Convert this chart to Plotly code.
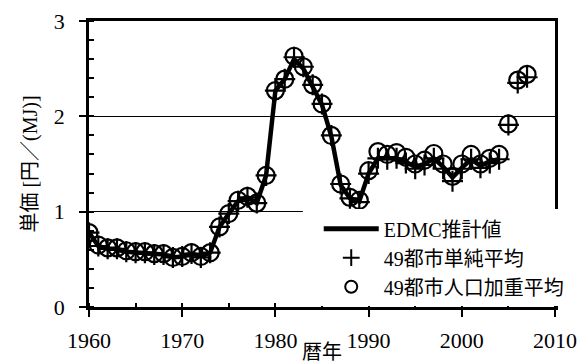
import plotly.graph_objects as go

years = list(range(1960, 2008))
weighted = [0.78, 0.65, 0.62, 0.62, 0.59, 0.58, 0.58, 0.56, 0.56, 0.52,
            0.53, 0.57, 0.53, 0.57, 0.84, 0.98, 1.12, 1.16, 1.09, 1.38,
            2.27, 2.39, 2.63, 2.52, 2.33, 2.13, 1.80, 1.29, 1.15, 1.12,
            1.43, 1.63, 1.60, 1.62, 1.57, 1.50, 1.54, 1.61, 1.50, 1.37,
            1.50, 1.60, 1.50, 1.56, 1.60, 1.92, 2.38, 2.44]
simple = [0.78, 0.64, 0.61, 0.61, 0.58, 0.57, 0.57, 0.55, 0.55, 0.52,
          0.53, 0.56, 0.52, 0.57, 0.84, 0.98, 1.11, 1.15, 1.09, 1.38,
          2.27, 2.39, 2.62, 2.52, 2.33, 2.13, 1.80, 1.29, 1.14, 1.10,
          1.40, 1.56, 1.55, 1.56, 1.51, 1.45, 1.49, 1.56, 1.45, 1.32,
          1.45, 1.55, 1.46, 1.51, 1.55, 1.91, 2.35, 2.41]
edmc_years = list(range(1960, 2005))
edmc = [0.78, 0.64, 0.61, 0.61, 0.58, 0.57, 0.57, 0.55, 0.55, 0.52,
        0.53, 0.56, 0.53, 0.57, 0.84, 0.98, 1.11, 1.15, 1.09, 1.38,
        2.27, 2.39, 2.60, 2.50, 2.32, 2.12, 1.79, 1.28, 1.14, 1.11,
        1.40, 1.56, 1.56, 1.56, 1.52, 1.47, 1.50, 1.56, 1.47, 1.36,
        1.46, 1.55, 1.48, 1.53, 1.55]

FONT = '"Liberation Serif", "Times New Roman", "Noto Sans CJK JP", serif'

fig = go.Figure()
fig.add_trace(go.Scatter(
    x=edmc_years, y=edmc, mode="lines", name="EDMC推計値",
    line=dict(color="black", width=4.5)))
fig.add_trace(go.Scatter(
    x=years, y=simple, mode="markers", name="49都市単純平均",
    marker=dict(symbol="cross-thin", size=15, line=dict(color="black", width=2.2), color="black")))
fig.add_trace(go.Scatter(
    x=years, y=weighted, mode="markers", name="49都市人口加重平均",
    marker=dict(symbol="circle-open", size=17, line=dict(color="black", width=2.2), color="black")))

# white strip continuing the legend box to the left (hides the 1.0 gridline there)
fig.add_shape(type="rect", xref="paper", yref="paper", x0=0.459, x1=0.5, y0=0.01, y1=0.345,
              fillcolor="white", line=dict(width=0), layer="above")

fig.update_layout(
    width=578, height=363,
    margin=dict(l=89, r=23, t=21, b=56, autoexpand=False),
    paper_bgcolor="white", plot_bgcolor="white",
    font=dict(family=FONT, size=20, color="black"),
    legend=dict(
        x=0.493, y=0.342, xanchor="left", yanchor="top",
        bgcolor="white", borderwidth=0, itemwidth=55, itemsizing="constant",
        font=dict(family=FONT, size=20, color="black"),
        tracegroupgap=0,
    ),
    xaxis=dict(
        range=[1960, 2010], tickmode="linear", tick0=1960, dtick=10,
        ticks="outside", ticklen=7, tickwidth=1.5, tickcolor="black",
        minor=dict(ticks="inside", ticklen=4, dtick=5, tickcolor="black", tickwidth=1.5),
        showline=True, linecolor="black", linewidth=2.5, mirror=True,
        showgrid=False, zeroline=False, automargin=False,
        ticklabelstandoff=5, tickfont=dict(size=22),
        title=dict(text="暦年", standoff=0, font=dict(size=20)),
    ),
    yaxis=dict(
        range=[0, 3], tickmode="linear", tick0=0, dtick=1,
        ticks="outside", ticklen=7, tickwidth=1.5, tickcolor="black",
        minor=dict(ticks="inside", ticklen=5, dtick=0.2, tickcolor="black", tickwidth=1.5),
        showline=True, linecolor="black", linewidth=2.5, mirror=True,
        showgrid=True, gridcolor="black", gridwidth=1,
        zeroline=False, ticklabelstandoff=10, automargin=False, tickfont=dict(size=22),
        title=dict(text="単価 [円／(MJ)]", standoff=11, font=dict(size=20)),
    ),
)

fig.write_html("out.html")
